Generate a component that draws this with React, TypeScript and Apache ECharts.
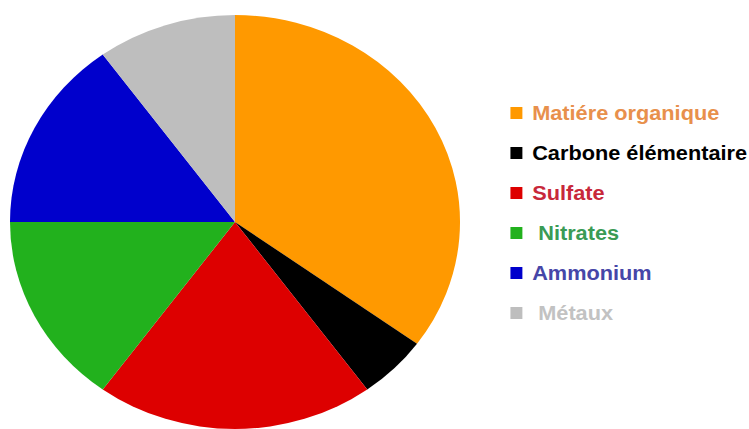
import React, { useEffect, useRef } from "react";
import * as echarts from "echarts";

const categories = ["Matiére organique", "Carbone élémentaire", "Sulfate", "Nitrates", "Ammonium", "Métaux"];
const values = [35, 5, 20, 15, 15, 10];
const sliceColors = ["#FF9900", "#000000", "#DD0000", "#22B11D", "#0000CC", "#BEBEBE"];
const labelColors = ["#E8904C", "#000000", "#C8283A", "#3A9B55", "#4646A8", "#C2C2C2"];
const indented = ["Nitrates", "Métaux"];

const STRETCH = 1.087;
const W = 749;
const H = 429;

export default function App() {
  const ref = useRef<HTMLDivElement>(null);
  useEffect(() => {
    document.body.style.margin = "0";
    const chart = echarts.init(ref.current!, null, { renderer: "svg" });
    chart.setOption({
      animation: false,
      backgroundColor: "#ffffff",
      legend: {
        orient: "vertical",
        left: 505 / STRETCH,
        top: 98,
        icon: "rect",
        itemWidth: 11,
        itemHeight: 12,
        itemGap: 20,
        selectedMode: false,
        formatter: (name: string) => (indented.includes(name) ? " " + name : name),
        textStyle: {
          fontFamily: "Liberation Sans, Arial, sans-serif",
          fontSize: 20,
          fontWeight: "bold",
          lineHeight: 20,
          padding: [0, 0, 0, 4],
        },
        data: categories.map((c, i) => ({ name: c, textStyle: { color: labelColors[i] } })),
      },
      series: [
        {
          type: "pie",
          center: [235 / STRETCH, 222],
          radius: 207,
          startAngle: 90,
          clockwise: true,
          label: { show: false },
          labelLine: { show: false },
          emphasis: { disabled: true },
          itemStyle: { borderWidth: 0 },
          data: categories.map((c, i) => ({
            name: c,
            value: values[i],
            itemStyle: { color: sliceColors[i] },
          })),
        },
      ],
    });
    return () => chart.dispose();
  }, []);
  return (
    <div style={{ position: "absolute", left: 0, top: 0, width: W, height: H, overflow: "hidden", background: "#fff" }}>
      <div
        ref={ref}
        style={{
          width: W / STRETCH,
          height: H,
          transform: `scaleX(${STRETCH})`,
          transformOrigin: "0 0",
        }}
      />
    </div>
  );
}
